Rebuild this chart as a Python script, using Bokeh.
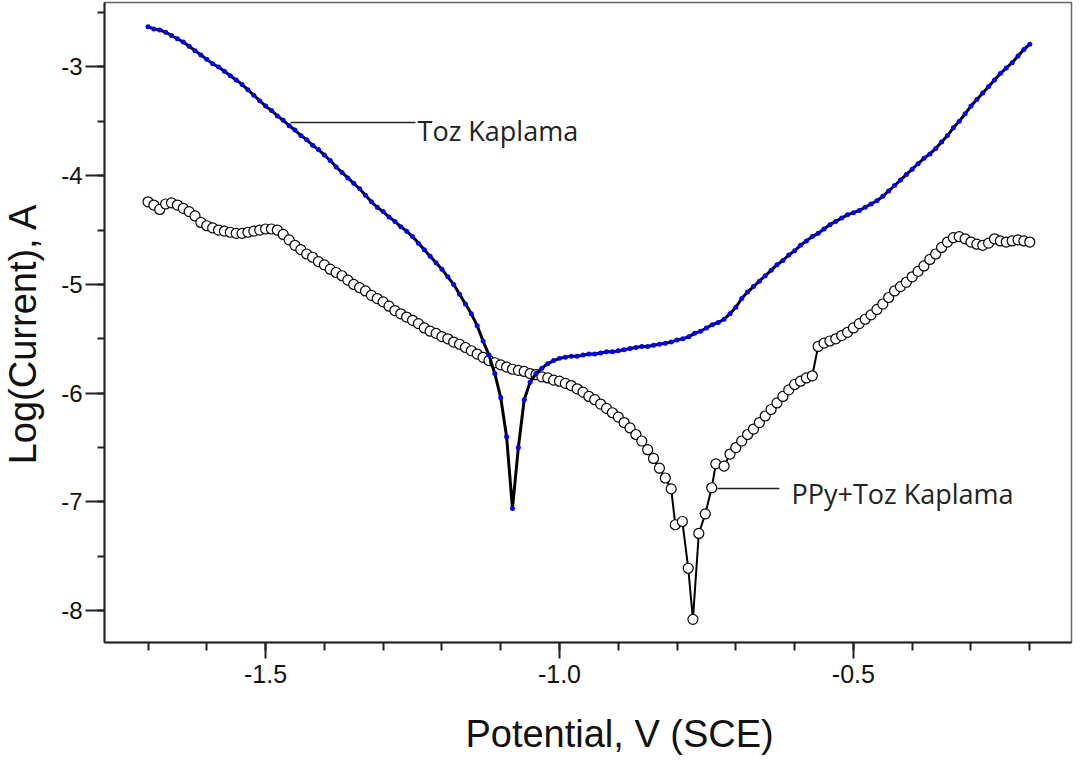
import math
from bokeh.plotting import figure
from bokeh.models import Range1d, FixedTicker, NumeralTickFormatter
from bokeh.layouts import column, row
from bokeh.core.properties import value
from bokeh.embed import file_html
from bokeh.resources import INLINE

# ---- data: Toz Kaplama (black line with blue points) ----
toz_v = [-1.70, -1.69, -1.68, -1.67, -1.66, -1.65, -1.64, -1.63, -1.62, -1.61,
         -1.60, -1.59, -1.58, -1.57, -1.56, -1.55, -1.54, -1.53, -1.52, -1.51,
         -1.50, -1.49, -1.48, -1.47, -1.46, -1.45, -1.44, -1.43, -1.42, -1.41,
         -1.40, -1.39, -1.38, -1.37, -1.36, -1.35, -1.34, -1.33, -1.32, -1.31,
         -1.30, -1.29, -1.28, -1.27, -1.26, -1.25, -1.24, -1.23, -1.22, -1.21,
         -1.20, -1.19, -1.18, -1.17, -1.16, -1.15, -1.14, -1.13, -1.12, -1.11,
         -1.10, -1.09, -1.08, -1.07, -1.06, -1.05, -1.04, -1.03, -1.02, -1.01,
         -1.00, -0.99, -0.98, -0.97, -0.96, -0.95, -0.94, -0.93, -0.92, -0.91,
         -0.90, -0.89, -0.88, -0.87, -0.86, -0.85, -0.84, -0.83, -0.82, -0.81,
         -0.80, -0.79, -0.78, -0.77, -0.76, -0.75, -0.74, -0.73, -0.72, -0.71,
         -0.70, -0.69, -0.68, -0.67, -0.66, -0.65, -0.64, -0.63, -0.62, -0.61,
         -0.60, -0.59, -0.58, -0.57, -0.56, -0.55, -0.54, -0.53, -0.52, -0.51,
         -0.50, -0.49, -0.48, -0.47, -0.46, -0.45, -0.44, -0.43, -0.42, -0.41,
         -0.40, -0.39, -0.38, -0.37, -0.36, -0.35, -0.34, -0.33, -0.32, -0.31,
         -0.30, -0.29, -0.28, -0.27, -0.26, -0.25, -0.24, -0.23, -0.22, -0.21,
         -0.20]
toz_log = [-2.63, -2.65, -2.66, -2.68, -2.71, -2.74, -2.77, -2.81, -2.85, -2.89,
           -2.93, -2.97, -3.00, -3.04, -3.08, -3.12, -3.16, -3.21, -3.26, -3.31,
           -3.36, -3.40, -3.45, -3.49, -3.54, -3.58, -3.63, -3.67, -3.72, -3.76,
           -3.81, -3.86, -3.92, -3.97, -4.02, -4.07, -4.12, -4.18, -4.24, -4.29,
           -4.33, -4.38, -4.42, -4.47, -4.51, -4.56, -4.62, -4.68, -4.74, -4.80,
           -4.86, -4.93, -5.00, -5.09, -5.18, -5.27, -5.38, -5.52, -5.65, -5.82,
           -6.04, -6.40, -7.06, -6.50, -6.06, -5.90, -5.82, -5.77, -5.73, -5.70,
           -5.68, -5.67, -5.66, -5.66, -5.65, -5.64, -5.64, -5.63, -5.62, -5.62,
           -5.61, -5.60, -5.59, -5.58, -5.57, -5.57, -5.56, -5.55, -5.54, -5.53,
           -5.51, -5.50, -5.48, -5.45, -5.43, -5.40, -5.37, -5.35, -5.32, -5.27,
           -5.21, -5.13, -5.07, -5.02, -4.97, -4.92, -4.87, -4.82, -4.78, -4.73,
           -4.69, -4.64, -4.60, -4.56, -4.53, -4.49, -4.45, -4.42, -4.39, -4.36,
           -4.34, -4.32, -4.29, -4.26, -4.23, -4.19, -4.14, -4.09, -4.04, -3.99,
           -3.94, -3.89, -3.84, -3.80, -3.75, -3.69, -3.63, -3.56, -3.50, -3.43,
           -3.36, -3.30, -3.24, -3.18, -3.12, -3.06, -3.01, -2.96, -2.90, -2.84,
           -2.79]

# ---- data: PPy+Toz Kaplama (open circles) ----
ppy_v = [-1.70, -1.69, -1.68, -1.67, -1.66, -1.65, -1.64, -1.63, -1.62, -1.61,
         -1.60, -1.59, -1.58, -1.57, -1.56, -1.55, -1.54, -1.53, -1.52, -1.51,
         -1.50, -1.49, -1.48, -1.47, -1.46, -1.45, -1.44, -1.43, -1.42, -1.41,
         -1.40, -1.39, -1.38, -1.37, -1.36, -1.35, -1.34, -1.33, -1.32, -1.31,
         -1.30, -1.29, -1.28, -1.27, -1.26, -1.25, -1.24, -1.23, -1.22, -1.21,
         -1.20, -1.19, -1.18, -1.17, -1.16, -1.15, -1.14, -1.13, -1.12, -1.11,
         -1.10, -1.09, -1.08, -1.07, -1.06, -1.05, -1.04, -1.03, -1.02, -1.01,
         -1.00, -0.99, -0.98, -0.97, -0.96, -0.95, -0.94, -0.93, -0.92, -0.91,
         -0.90, -0.89, -0.88, -0.87, -0.86, -0.85, -0.84, -0.83, -0.82, -0.81,
         -0.803, -0.791, -0.781, -0.773, -0.763, -0.752, -0.741, -0.734, -0.720,
         -0.71, -0.70, -0.69, -0.68, -0.67, -0.66, -0.65, -0.64, -0.63, -0.62,
         -0.61, -0.60, -0.59, -0.58, -0.57, -0.56, -0.55, -0.54, -0.53, -0.52,
         -0.51, -0.50, -0.49, -0.48, -0.47, -0.46, -0.45, -0.44, -0.43, -0.42,
         -0.41, -0.40, -0.39, -0.38, -0.37, -0.36, -0.35, -0.34, -0.33, -0.32,
         -0.31, -0.30, -0.29, -0.28, -0.27, -0.26, -0.25, -0.24, -0.23, -0.22,
         -0.21, -0.20]
ppy_log = [-4.24, -4.27, -4.31, -4.26, -4.25, -4.27, -4.30, -4.33, -4.37, -4.43,
           -4.46, -4.48, -4.50, -4.51, -4.52, -4.53, -4.53, -4.52, -4.51, -4.50,
           -4.49, -4.49, -4.50, -4.54, -4.59, -4.64, -4.68, -4.72, -4.75, -4.79,
           -4.82, -4.86, -4.89, -4.92, -4.96, -5.00, -5.03, -5.06, -5.10, -5.13,
           -5.16, -5.20, -5.24, -5.27, -5.30, -5.33, -5.36, -5.40, -5.43, -5.45,
           -5.48, -5.50, -5.53, -5.55, -5.58, -5.61, -5.64, -5.67, -5.70, -5.72,
           -5.74, -5.76, -5.78, -5.79, -5.80, -5.82, -5.83, -5.85, -5.86, -5.88,
           -5.89, -5.91, -5.93, -5.96, -5.99, -6.03, -6.06, -6.10, -6.14, -6.18,
           -6.22, -6.27, -6.32, -6.38, -6.44, -6.52, -6.60, -6.69, -6.78, -6.88,
           -7.21, -7.18, -7.61, -8.08, -7.29, -7.11, -6.87, -6.65, -6.67,
           -6.56, -6.50, -6.44, -6.38, -6.33, -6.27, -6.21, -6.15, -6.09, -6.03,
           -5.97, -5.92, -5.89, -5.86, -5.84, -5.57, -5.54, -5.52, -5.50, -5.47,
           -5.44, -5.40, -5.36, -5.32, -5.28, -5.23, -5.18, -5.12, -5.06, -5.02,
           -4.98, -4.93, -4.88, -4.83, -4.77, -4.72, -4.66, -4.61, -4.57, -4.56,
           -4.58, -4.61, -4.63, -4.64, -4.62, -4.58, -4.60, -4.61, -4.60, -4.59,
           -4.60, -4.61]

x_major_ticks = [-1.5, -1.0, -0.5]
x_minor_ticks = [-1.7, -1.6, -1.5, -1.4, -1.3, -1.2, -1.1, -1.0, -0.9, -0.8,
                 -0.7, -0.6, -0.5, -0.4, -0.3, -0.2]
y_major_ticks = [-8, -7, -6, -5, -4, -3]
y_minor_ticks = [-8.0, -7.5, -7.0, -6.5, -6.0, -5.5, -5.0, -4.5, -4.0, -3.5,
                 -3.0, -2.5]

x_title = "Potential, V (SCE)"
y_title = "Log(Current), A"
label_toz = "Toz Kaplama"
label_ppy = "PPy+Toz Kaplama"

X_RANGE = Range1d(-1.774, -0.129)
Y_RANGE = Range1d(-8.293, -2.407)


def bare(fig):
    fig.outline_line_color = None
    fig.grid.visible = False
    fig.background_fill_color = "white"
    fig.border_fill_color = "white"


p = figure(output_backend="svg", toolbar_location=None,
           frame_width=967, frame_height=640,
           min_border_left=56, min_border_right=2, min_border_top=2,
           min_border_bottom=50, x_range=X_RANGE, y_range=Y_RANGE)
p.background_fill_color = "white"
p.border_fill_color = "white"
p.grid.visible = False
p.outline_line_color = "#666666"
p.outline_line_width = 1.5

# axes
for ax in (p.xaxis[0], p.yaxis[0]):
    ax.axis_line_color = "#222222"
    ax.axis_line_width = 2
    ax.major_tick_line_color = "#222222"
    ax.major_tick_line_width = 2
    ax.minor_tick_line_color = "#222222"
    ax.minor_tick_line_width = 2
    ax.major_tick_in = 0
    ax.minor_tick_in = 0
    ax.major_label_text_font = "Liberation Sans"
    ax.major_label_text_color = "#111111"

p.xaxis.ticker = FixedTicker(ticks=x_major_ticks, minor_ticks=x_minor_ticks)
p.xaxis.formatter = NumeralTickFormatter(format="0.0")
p.xaxis.major_tick_out = 16
p.xaxis.minor_tick_out = 8
p.xaxis.major_label_standoff = 6
p.xaxis.major_label_text_font_size = "25px"

p.yaxis.ticker = FixedTicker(ticks=y_major_ticks, minor_ticks=y_minor_ticks)
p.yaxis.formatter = NumeralTickFormatter(format="0")
p.yaxis.major_tick_out = 19
p.yaxis.minor_tick_out = 7
p.yaxis.major_label_standoff = 3
p.yaxis.major_label_text_font_size = "24px"

# PPy+Toz Kaplama: open circles joined by a line
p.line(ppy_v, ppy_log, line_color="black", line_width=2)
p.scatter(ppy_v, ppy_log, marker="circle", size=10, fill_color="white",
          line_color="black", line_width=1.2)

# Toz Kaplama: black line with blue points
p.line(toz_v, toz_log, line_color="black", line_width=3)
p.scatter(toz_v, toz_log, marker="circle", size=5, fill_color="#0000ff",
          line_color=None)

# annotations with leader lines
p.segment(x0=[-1.4575, -0.7313], y0=[-3.510, -6.876],
          x1=[-1.2449, -0.6259], y1=[-3.510, -6.876],
          line_color="#222222", line_width=1.5)
p.text(x=[-1.2415, -0.6054], y=[-3.583, -6.922], text=[label_toz, label_ppy],
       text_font=value("Open Sans"), text_font_size="27px",
       text_color="#222222", text_baseline="alphabetic", text_align="left")

# strip left of the chart carrying the y-axis title
r = figure(output_backend="svg", toolbar_location=None,
           frame_width=48, frame_height=640,
           min_border_left=0, min_border_right=0, min_border_top=2,
           min_border_bottom=50, x_axis_location=None, y_axis_location=None,
           x_range=Range1d(0, 1), y_range=Y_RANGE)
bare(r)
r.text(x=[0.46], y=[-5.45], text=[y_title], angle=math.pi / 2,
       text_font=value("Liberation Sans"), text_font_size="38px",
       text_color="#111111", text_baseline="middle", text_align="center")

# strip below the chart carrying the (off-centre) x-axis title
q = figure(output_backend="svg", toolbar_location=None,
           frame_width=967, frame_height=63,
           min_border_left=104, min_border_right=2, min_border_top=0,
           min_border_bottom=0, x_axis_location=None, y_axis_location=None,
           x_range=X_RANGE, y_range=Range1d(0, 1))
bare(q)
q.text(x=[-1.160], y=[0.34], text=[x_title],
       text_font=value("Liberation Sans"), text_font_size="38px",
       text_color="#111111", text_baseline="middle", text_align="left")

layout = column(row(r, p, spacing=0), q, spacing=0)
open("out.html", "w").write(file_html(layout, INLINE))
